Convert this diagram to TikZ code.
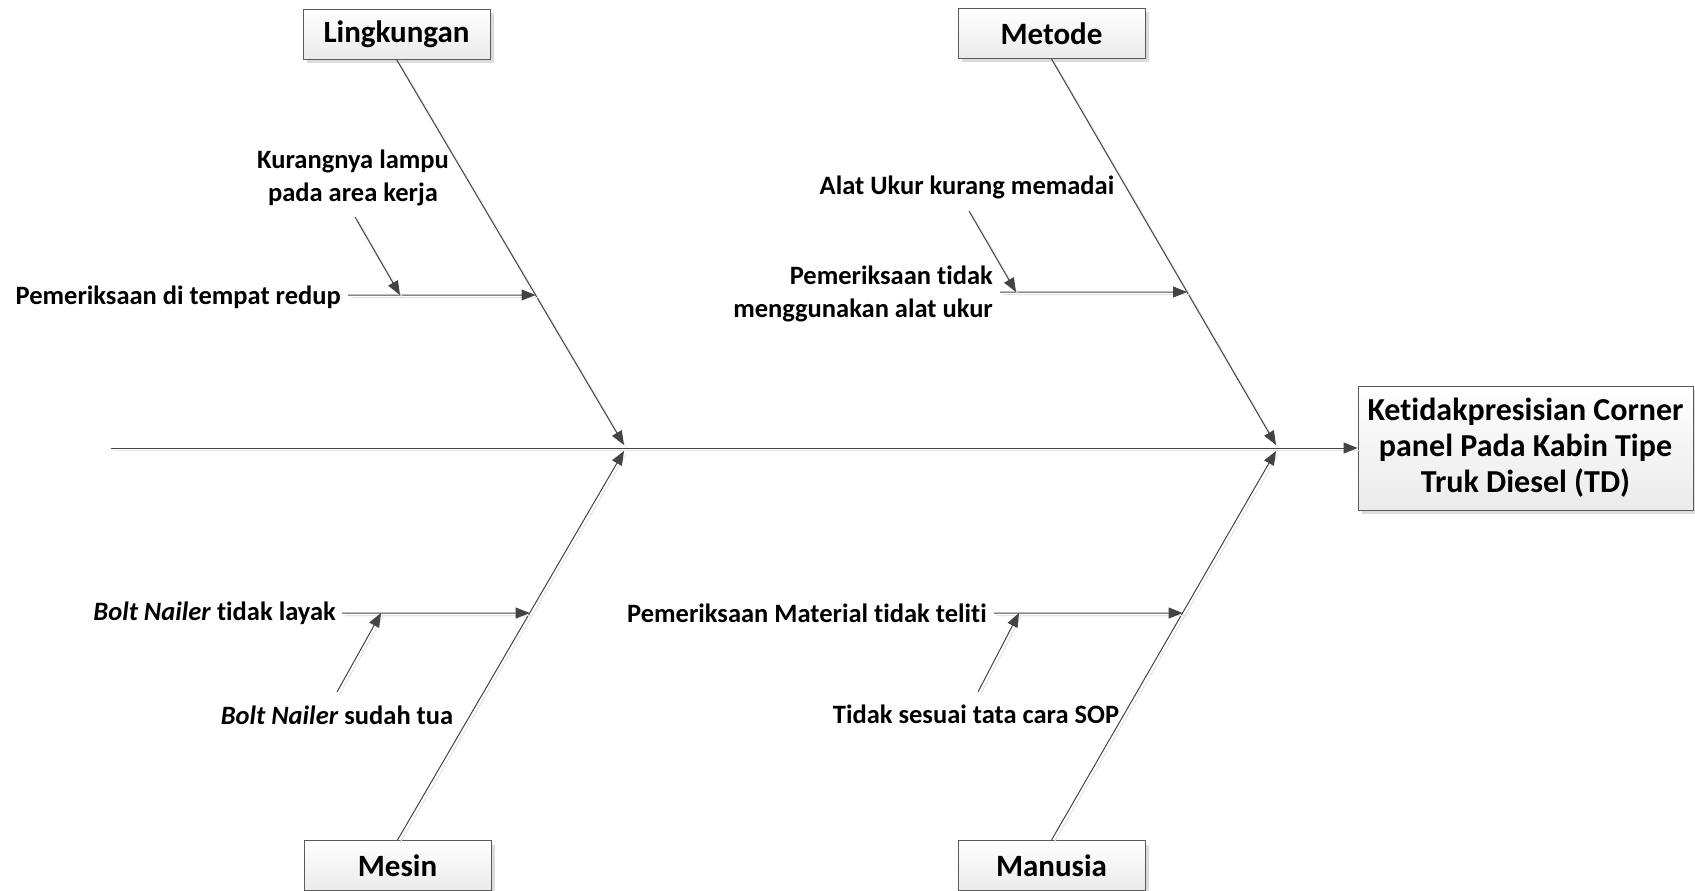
\documentclass[tikz,border=0pt]{standalone}
\usepackage{fontspec}
\setmainfont[Ligatures=NoCommon]{Carlito}
\usetikzlibrary{arrows.meta,shadows}

\definecolor{linegray}{HTML}{444444}
\definecolor{boxedge}{HTML}{5A5A5A}

\begin{document}
\begin{tikzpicture}[x=1pt,y=-1pt,
  every node/.style={inner sep=0pt},
  lbl/.style={font=\fontsize{26.5}{33}\selectfont\bfseries, text=black},
  catbox/.style={draw=boxedge, line width=0.9pt, top color=white, bottom color=gray!16,
    minimum width=187pt, minimum height=50pt,
    font=\fontsize{31}{36}\selectfont\bfseries,
    drop shadow={shadow xshift=4pt, shadow yshift=-4pt, fill=black!14, opacity=1}},
  effbox/.style={catbox, minimum width=335pt, minimum height=124pt, align=center,
    font=\fontsize{32}{36}\selectfont\bfseries},
  bone/.style={draw=linegray, line width=1pt,
    -{Triangle[length=14pt,width=11pt]},
    preaction={draw=gray!22, line width=1pt, -,
      transform canvas={shift={(2.5pt,-2.5pt)}}}},
  twig/.style={bone}
]
\useasboundingbox (0,0) rectangle (1695,891);

% category boxes and effect box
\node[catbox] (ling) at (396.5,34) {\raisebox{-2pt}{Lingkungan}};
\node[catbox] (meto) at (1051.5,33.5) {\raisebox{-1pt}{Metode}};
\node[catbox] (mesi) at (397.5,865.5) {Mesin};
\node[catbox] (manu) at (1051.5,865.5) {Manusia};
\node[effbox] (eff) at (1525.5,448) {Ketidakpresisian Corner\\panel Pada Kabin Tipe\\Truk Diesel (TD)};

% spine
\coordinate (tail) at (111,448);
\draw[bone] (tail) -- (eff.west);

% main bones
\coordinate (jL) at (624,445);
\coordinate (jM) at (1276,445);
\coordinate (jLb) at (624,451);
\coordinate (jMb) at (1276,451);
\draw[bone] (ling.south) -- (jL);
\draw[bone] (meto.south) -- (jM);
\draw[bone] (mesi.north) -- (jLb);
\draw[bone] (manu.north) -- (jMb);

% Lingkungan causes
\coordinate (L1s) at (348,295);
\coordinate (L1t) at (400,295);
\coordinate (L2s) at (355,217);
\draw[twig] (L1s) -- (intersection of L1s--L1t and ling.south--jL);
\draw[twig] (L2s) -- (L1t);
\node[lbl, anchor=east] (l1) at (341,297) {Pemeriksaan di tempat redup};
\node[lbl, align=center] (l2) at (353,178) {Kurangnya lampu\\pada area kerja};

% Metode causes
\coordinate (M1s) at (1000,292);
\coordinate (M1t) at (1016,292);
\coordinate (M2s) at (969,211);
\draw[twig] (M1s) -- (intersection of M1s--M1t and meto.south--jM);
\draw[twig] (M2s) -- (M1t);
\node[lbl, anchor=east, align=right] (m1) at (993,294) {Pemeriksaan tidak\\menggunakan alat ukur};
\node[lbl] (m2) at (967,187) {Alat Ukur kurang memadai};

% Mesin causes
\coordinate (B1s) at (342,613);
\coordinate (B1t) at (381,613);
\coordinate (B2s) at (337,692);
\draw[twig] (B1s) -- (intersection of B1s--B1t and mesi.north--jLb);
\draw[twig] (B2s) -- (B1t);
\node[lbl, anchor=east] (b1) at (336,613) {\textit{Bolt Nailer} tidak layak};
\node[lbl] (b2) at (337,715) {\textit{Bolt Nailer} sudah tua};

% Manusia causes
\coordinate (U1s) at (994,613);
\coordinate (U1t) at (1019,613);
\coordinate (U2s) at (978,692);
\draw[twig] (U1s) -- (intersection of U1s--U1t and manu.north--jMb);
\draw[twig] (U2s) -- (U1t);
\node[lbl, anchor=east] (u1) at (987,613) {Pemeriksaan Material tidak teliti};
\node[lbl] (u2) at (976,714) {Tidak sesuai tata cara SOP};
\end{tikzpicture}
\end{document}
